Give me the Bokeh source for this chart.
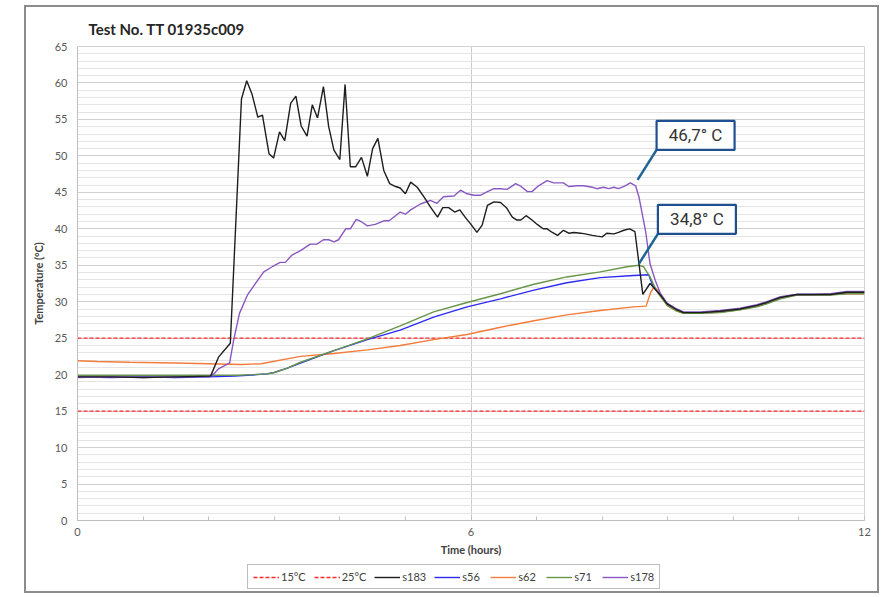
from bokeh.plotting import figure
from bokeh.models import Range1d, FixedTicker, Legend, LegendItem
from bokeh.layouts import column
from bokeh.core.properties import value
from bokeh.embed import file_html
from bokeh.resources import INLINE

# ---------------- data ----------------
tail_t = [8.99, 9.12, 9.24, 9.50, 9.80, 10.10, 10.36, 10.51, 10.72, 10.97, 11.22, 11.48, 11.73, 12.0]

t_s183 = [0, 0.5, 1.0, 1.5, 2.03, 2.15, 2.33, 2.50, 2.58, 2.66, 2.75, 2.82, 2.92, 2.99, 3.08,
          3.16, 3.25, 3.33, 3.41, 3.50, 3.58, 3.66, 3.75, 3.83, 3.91, 4.00, 4.08, 4.16, 4.24,
          4.33, 4.42, 4.50, 4.58, 4.67, 4.76, 4.85, 4.92, 5.00, 5.08, 5.18, 5.28, 5.38, 5.49,
          5.57, 5.66, 5.75, 5.83, 5.91, 6.00, 6.09, 6.17, 6.25, 6.35, 6.45, 6.54, 6.63, 6.70,
          6.76, 6.84, 6.93, 7.01, 7.10, 7.16, 7.24, 7.32, 7.41, 7.49, 7.57, 7.67, 7.74, 7.85,
          7.92, 8.00, 8.07, 8.18, 8.25, 8.33, 8.42, 8.50, 8.62, 8.73, 8.78, 8.89] + tail_t
v_s183 = [19.7, 19.7, 19.6, 19.7, 19.8, 22.4, 24.3, 57.8, 60.3, 58.5, 55.3, 55.6, 50.3, 49.7, 53.3,
          52.1, 57.2, 58.2, 54.1, 52.7, 57.0, 55.2, 59.5, 54.0, 50.8, 49.5, 59.8, 48.5, 48.5,
          49.8, 47.2, 51.0, 52.4, 48.0, 46.2, 45.8, 45.6, 44.8, 46.4, 45.7, 44.4, 43.0, 41.6,
          42.9, 42.9, 42.3, 42.6, 41.6, 40.6, 39.5, 40.5, 43.2, 43.7, 43.6, 42.9, 41.6, 41.2,
          41.2, 41.8, 41.2, 40.6, 40.0, 40.0, 39.5, 39.1, 39.8, 39.4, 39.5, 39.4, 39.3, 39.1,
          39.0, 38.9, 39.4, 39.3, 39.5, 39.8, 40.0, 39.6, 31.0, 32.5, 32.0, 30.9,
          29.7, 29.0, 28.5, 28.5, 28.7, 29.0, 29.5, 29.9, 30.6, 31.0, 31.0, 31.0, 31.3, 31.3]

t_s178 = [0, 0.5, 1.0, 1.5, 2.0, 2.08, 2.15, 2.32, 2.38, 2.47, 2.59, 2.69, 2.84, 2.97, 3.09,
          3.17, 3.27, 3.40, 3.55, 3.65, 3.75, 3.83, 3.91, 3.98, 4.09, 4.16, 4.25, 4.34, 4.42,
          4.54, 4.67, 4.75, 4.85, 4.92, 5.00, 5.08, 5.23, 5.38, 5.48, 5.58, 5.74, 5.84, 5.94,
          6.04, 6.14, 6.25, 6.35, 6.45, 6.55, 6.68, 6.75, 6.86, 6.93, 7.03, 7.16, 7.26, 7.41,
          7.49, 7.62, 7.72, 7.85, 7.92, 8.02, 8.10, 8.18, 8.25, 8.35, 8.43, 8.51, 8.56, 8.66,
          8.73, 8.81, 8.89] + tail_t
v_s178 = [19.6, 19.7, 19.6, 19.7, 19.7, 20.1, 20.8, 21.6, 24.7, 28.4, 30.9, 32.2, 34.1, 34.8, 35.4,
          35.4, 36.4, 37.0, 37.9, 37.9, 38.5, 38.5, 38.2, 38.5, 40.0, 40.0, 41.3, 40.9, 40.4,
          40.6, 41.1, 41.1, 41.8, 42.3, 42.0, 42.6, 43.4, 43.9, 43.5, 44.4, 44.5, 45.3, 44.8,
          44.6, 44.6, 45.1, 45.5, 45.5, 45.4, 46.2, 45.9, 45.1, 45.1, 45.9, 46.6, 46.3, 46.3,
          45.8, 45.9, 45.9, 45.7, 45.5, 45.7, 45.5, 45.7, 45.5, 45.9, 46.3, 45.9, 44.4, 39.8,
          35.2, 32.9, 31.1,
          29.8, 29.1, 28.6, 28.6, 28.8, 29.1, 29.6, 30.0, 30.7, 31.0, 31.0, 31.1, 31.4, 31.4]

t_s71 = [0, 1.0, 2.0, 2.4, 2.7, 2.89, 3.0, 3.2, 3.40, 3.91, 4.42, 4.92, 5.43, 5.94, 6.45, 6.96,
         7.46, 7.97, 8.38, 8.56, 8.63, 8.73, 8.83, 8.89] + tail_t
v_s71 = [19.9, 19.9, 19.9, 19.9, 20.0, 20.1, 20.3, 20.9, 21.7, 23.3, 24.9, 26.7, 28.6, 29.9, 31.1, 32.4,
         33.4, 34.1, 34.8, 35.0, 34.8, 33.4, 31.5, 30.7,
         29.5, 28.8, 28.4, 28.4, 28.5, 28.9, 29.3, 29.7, 30.4, 30.9, 30.9, 30.9, 31.1, 31.1]

t_s56 = [0, 0.5, 1.0, 1.5, 2.0, 2.4, 2.89, 3.0, 3.2, 3.40, 3.91, 4.42, 4.92, 5.43, 5.94, 6.45,
         6.96, 7.46, 7.97, 8.48, 8.71, 8.78, 8.89] + tail_t
v_s56 = [19.7, 19.6, 19.7, 19.6, 19.7, 19.8, 20.1, 20.3, 20.9, 21.6, 23.3, 24.8, 26.1, 27.9, 29.3, 30.4,
         31.6, 32.6, 33.3, 33.6, 33.7, 32.0, 30.9,
         29.7, 29.0, 28.5, 28.5, 28.7, 29.0, 29.5, 29.9, 30.6, 31.0, 31.0, 31.0, 31.3, 31.3]

t_s62 = [0, 0.3, 0.8, 1.5, 2.0, 2.5, 2.8, 3.40, 3.91, 4.42, 4.92, 5.43, 5.94, 6.45, 6.96, 7.46,
         7.97, 8.48, 8.67, 8.74, 8.79, 8.86, 8.95] + tail_t
v_s62 = [21.9, 21.8, 21.7, 21.6, 21.5, 21.4, 21.5, 22.5, 22.9, 23.4, 24.0, 24.8, 25.5, 26.5, 27.4, 28.2,
         28.8, 29.3, 29.4, 31.3, 32.0, 31.5, 30.2,
         29.5, 28.8, 28.4, 28.4, 28.6, 28.9, 29.4, 29.8, 30.5, 30.9, 30.9, 31.0, 31.1, 31.1]

limit_t = [0, 12]
limit_15 = [15, 15]
limit_25 = [25, 25]

callout_text = ["46,7° C", "34,8° C"]
callout_t = [8.54, 8.56]
callout_v = [46.7, 35.2]

x_major = [0, 6, 12]
y_major = list(range(0, 66, 5))

# ---------------- styles ----------------
FONT = "Lato"
X0, X1, Y0, Y1 = 0, 12, 0, 65
FRAME_W, FRAME_H = 787, 474

series_style = [
    ("15°C", limit_t, limit_15, "#ff2a2a", "4 2"),
    ("25°C", limit_t, limit_25, "#ff2a2a", "4 2"),
    ("s183", t_s183, v_s183, "#1e1e1e", "solid"),
    ("s56", t_s56, v_s56, "#2b2bf0", "solid"),
    ("s62", t_s62, v_s62, "#f47c3a", "solid"),
    ("s71", t_s71, v_s71, "#679648", "solid"),
    ("s178", t_s178, v_s178, "#8a58c2", "solid"),
]
draw_order = ["15°C", "25°C", "s62", "s56", "s71", "s178", "s183"]

# ---------------- main figure ----------------
p = figure(width=851, height=553, output_backend="svg", toolbar_location=None,
           x_range=Range1d(X0, X1), y_range=Range1d(Y0, Y1),
           min_border_left=51, min_border_right=13, min_border_top=39, min_border_bottom=40,
           background_fill_color="white", border_fill_color="white",
           outline_line_color="#d4d4d4")

p.title.text = "Test No. TT 01935c009"
p.title.text_font = FONT
p.title.text_font_size = "15px"
p.title.text_font_style = "bold"
p.title.text_color = "#262626"
p.title.offset = 11
p.title.standoff = 17

p.xaxis.ticker = FixedTicker(ticks=x_major, minor_ticks=list(range(0, 13)))
p.yaxis.ticker = FixedTicker(ticks=y_major, minor_ticks=list(range(0, 66)))
for ax in (p.xaxis, p.yaxis):
    ax.axis_line_color = "#bfbfbf"
    ax.major_tick_line_color = "#bfbfbf"
    ax.minor_tick_line_color = "#bfbfbf"
    ax.major_label_text_font = FONT
    ax.major_label_text_font_size = "11px"
    ax.major_label_text_color = "#595959"
    ax.axis_label_text_font = FONT
    ax.axis_label_text_font_size = "11px"
    ax.axis_label_text_font_style = "bold"
    ax.axis_label_text_color = "#404040"
p.xaxis.major_tick_in = 4
p.xaxis.major_tick_out = 0
p.xaxis.minor_tick_in = 4
p.xaxis.minor_tick_out = 0
p.xaxis.major_label_standoff = 7
p.xaxis.axis_label = "Time (hours)"
p.xaxis.axis_label_standoff = 4
p.yaxis.major_tick_in = 0
p.yaxis.major_tick_out = 0
p.yaxis.minor_tick_in = 0
p.yaxis.minor_tick_out = 0
p.yaxis.major_label_standoff = 10
p.yaxis.axis_label = "Temperature (°C)"
p.yaxis.axis_label_standoff = 7

p.xgrid.grid_line_color = "#cccccc"
p.ygrid.grid_line_color = "#cfcfcf"
p.ygrid.minor_grid_line_color = "#e4e4e4"
p.xgrid.minor_grid_line_color = None

style_map = {s[0]: s for s in series_style}
for name in draw_order:
    _, xs, ys, col, dash = style_map[name]
    p.line(xs, ys, line_color=col, line_width=1.3 if dash != "solid" else 1.4, line_dash=dash)

# callouts
ppx = FRAME_W / (X1 - X0)
ppy = FRAME_H / (Y1 - Y0)
dx_px, dy_px, bw_px, bh_px = 19, 30, 78, 29
left = [t + dx_px / ppx for t in callout_t]
bottom = [v + dy_px / ppy for v in callout_v]
right = [l + bw_px / ppx for l in left]
top = [b + bh_px / ppy for b in bottom]
for i in range(len(callout_text)):
    p.line([callout_t[i], left[i]], [callout_v[i], bottom[i]], line_color="#1d6394", line_width=2.5)
p.quad(left=left, right=right, bottom=bottom, top=top, fill_color="white",
       line_color="#1f4f8f", line_width=2.2)
p.text(x=[(l + r) / 2 for l, r in zip(left, right)], y=[(b + t) / 2 for b, t in zip(bottom, top)],
       text=callout_text, text_align="center", text_baseline="middle",
       text_font=value("Roboto"), text_font_size="17px", text_color="#333333")

# ---------------- legend strip (its series lie outside its visible range) ----------------
pl = figure(width=851, height=31, output_backend="svg", toolbar_location=None,
            x_axis_location=None, y_axis_location=None,
            x_range=Range1d(-200, -199), y_range=Range1d(-200, -199),
            min_border=0, outline_line_color=None,
            background_fill_color="white", border_fill_color="white")
pl.grid.visible = False
items = []
for name, xs, ys, col, dash in series_style:
    r = pl.line(xs, ys, line_color=col, line_width=1.3 if dash != "solid" else 1.4, line_dash=dash)
    items.append(LegendItem(label=name, renderers=[r]))
legend = Legend(items=items, orientation="horizontal", location=(170, 2))
legend.label_text_font = FONT
legend.label_text_font_size = "11px"
legend.label_text_color = "#404040"
legend.glyph_width = 26
legend.glyph_height = 12
legend.label_height = 12
legend.label_standoff = 2
legend.spacing = 8
legend.padding = 5
legend.margin = 0
legend.border_line_color = "#7f7f7f"
legend.border_line_width = 1.5
legend.background_fill_color = "white"
legend.background_fill_alpha = 1
pl.add_layout(legend, "center")

layout = column(p, pl, spacing=0,
                styles={"border": "2px solid #8c8c8c", "margin-left": "24px", "margin-top": "5px"})

open("out.html", "w").write(file_html(layout, INLINE))
